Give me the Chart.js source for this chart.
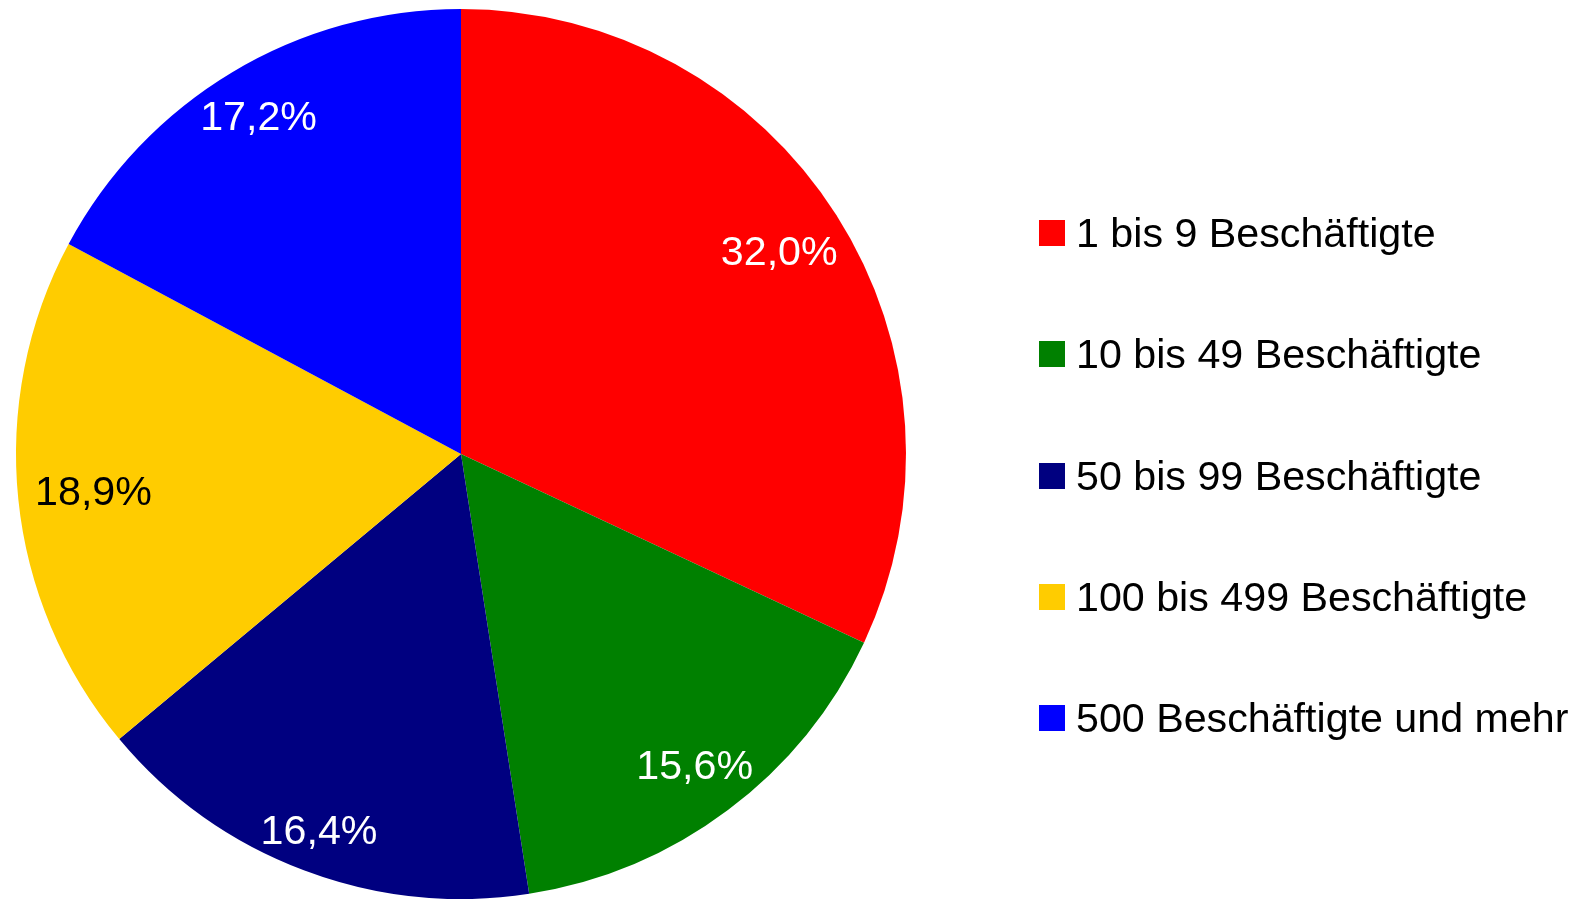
<!DOCTYPE html>
<html>
<head>
<meta charset="utf-8">
<script src="https://cdn.jsdelivr.net/npm/chart.js@4/dist/chart.umd.min.js"></script>
<style>
  html, body { margin: 0; padding: 0; background: #ffffff; }
  canvas { display: block; }
</style>
</head>
<body>
<canvas id="c" width="1578" height="899"></canvas>
<script>
const categories = [
  "1 bis 9 Beschäftigte",
  "10 bis 49 Beschäftigte",
  "50 bis 99 Beschäftigte",
  "100 bis 499 Beschäftigte",
  "500 Beschäftigte und mehr"
];
const shares = [32.0, 15.6, 16.4, 18.9, 17.2];
const sliceColors = ["#ff0000", "#008000", "#000080", "#ffcc00", "#0000ff"];
const labelColors = ["#ffffff", "#ffffff", "#ffffff", "#000000", "#ffffff"];

const FONT = '"Liberation Sans", Arial, Helvetica, sans-serif';
const STRETCH = 1.03;
const fmt = v => v.toFixed(1).replace('.', ',') + '%';

function drawStretched(ctx, text, x, y, align) {
  ctx.save();
  ctx.translate(x, y);
  ctx.scale(STRETCH, 1);
  ctx.textAlign = align;
  ctx.fillText(text, 0, 0);
  ctx.restore();
}

const sliceLabels = {
  id: 'sliceLabels',
  afterDatasetsDraw(chart) {
    const ctx = chart.ctx;
    const meta = chart.getDatasetMeta(0);
    ctx.save();
    ctx.font = '40px ' + FONT;
    ctx.textBaseline = 'alphabetic';
    meta.data.forEach((arc, i) => {
      const p = arc.getProps(['x', 'y', 'startAngle', 'endAngle', 'outerRadius'], true);
      const mid = (p.startAngle + p.endAngle) / 2;
      const ux = Math.cos(mid), uy = Math.sin(mid);
      const text = fmt(shares[i]);
      const w = ctx.measureText(text).width * STRETCH;
      const r = p.outerRadius - 25 - 0.87 * Math.abs(ux) * w / 2;
      const cx = p.x + ux * r, cy = p.y + uy * r;
      ctx.fillStyle = labelColors[i];
      drawStretched(ctx, text, cx, cy + 13.5, 'center');
    });
    ctx.restore();
  }
};

const sideLegend = {
  id: 'sideLegend',
  afterDraw(chart) {
    const ctx = chart.ctx;
    const ds = chart.data.datasets[0];
    ctx.save();
    ctx.font = '40px ' + FONT;
    ctx.textBaseline = 'alphabetic';
    chart.data.labels.forEach((lab, i) => {
      const cy = 233 + i * 121.3;
      ctx.fillStyle = ds.backgroundColor[i];
      ctx.fillRect(1039, Math.round(cy - 13), 26, 26);
      ctx.fillStyle = '#000000';
      drawStretched(ctx, lab, 1076, cy + 14, 'left');
    });
    ctx.restore();
  }
};

new Chart(document.getElementById('c'), {
  type: 'pie',
  data: {
    labels: categories,
    datasets: [{
      data: shares,
      backgroundColor: sliceColors,
      borderWidth: 0,
      hoverOffset: 0
    }]
  },
  options: {
    responsive: false,
    devicePixelRatio: 1,
    animation: false,
    layout: { padding: { left: 16, top: 9, right: 672, bottom: 0 } },
    plugins: {
      legend: { display: false },
      tooltip: { enabled: false }
    }
  },
  plugins: [sliceLabels, sideLegend]
});
</script>
</body>
</html>
